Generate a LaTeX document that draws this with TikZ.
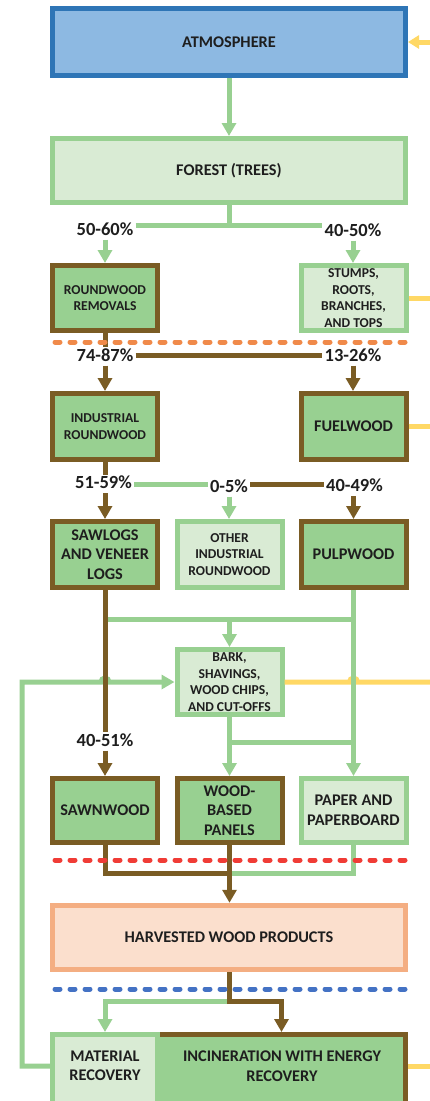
\documentclass[tikz,border=0pt]{standalone}
\usepackage{fontspec}
\setmainfont{Carlito}
\usetikzlibrary{arrows.meta}

\definecolor{atmfill}{HTML}{8DB9E2}
\definecolor{atmline}{HTML}{2E75B6}
\definecolor{lgfill}{HTML}{D9EBD4}
\definecolor{gline}{HTML}{98D091}
\definecolor{woodbrown}{HTML}{7A5C24}
\definecolor{ylw}{HTML}{FFD865}
\definecolor{hwpfill}{HTML}{FBDFCD}
\definecolor{hwpline}{HTML}{F4AE82}
\definecolor{orgdot}{HTML}{F08A4A}
\definecolor{reddot}{HTML}{F03C36}
\definecolor{bluedot}{HTML}{4472C4}
\definecolor{txt}{HTML}{1E1E1E}

\newcommand\fbig{\fontsize{16.3pt}{19.5pt}\selectfont\bfseries}
\newcommand\fsmall{\fontsize{13.6pt}{16.7pt}\selectfont\bfseries}
\newcommand\fpct{\fontsize{18.5pt}{20pt}\selectfont\bfseries}

\tikzset{
  box/.style={draw, line width=5pt, inner sep=0pt, align=center, text=txt},
  mgbox/.style={box, draw=woodbrown, fill=gline},
  lgbox/.style={box, draw=gline, fill=lgfill},
  colbox/.style={minimum width=105pt},
  pct/.style={font=\fpct, text=txt, inner xsep=2pt, inner ysep=1pt},
  gconn/.style={draw=gline, line width=5pt},
  bconn/.style={draw=woodbrown, line width=5pt},
  yconn/.style={draw=ylw, line width=5pt},
  arr/.style={-{Triangle[width=14pt,length=13pt]}},
  sep/.style={line width=5pt, line cap=round, dash pattern=on 5pt off 10pt},
}

\begin{document}
\begin{tikzpicture}[x=1pt,y=-1pt]
\useasboundingbox (0,0) rectangle (430,1101);
\clip (0,0) rectangle (430,1101);

% ---- boxes ----
\node[box, draw=atmline, fill=atmfill, minimum width=353pt, minimum height=67pt, font=\fbig]
  (atm) at (229,42) {ATMOSPHERE};
\node[lgbox, minimum width=353pt, minimum height=64pt, font=\fbig]
  (forest) at (229,170.5) {FOREST (TREES)};

\node[mgbox, colbox, minimum height=65pt, font=\fsmall] (removals) at (105,298) {ROUNDWOOD\\REMOVALS};
\node[lgbox, colbox, minimum height=65pt, font=\fsmall] (stumps) at (353.5,298) {STUMPS,\\ROOTS,\\BRANCHES,\\AND TOPS};

\node[mgbox, colbox, minimum height=66pt, font=\fsmall] (indround) at (105,426.5) {INDUSTRIAL\\ROUNDWOOD};
\node[mgbox, colbox, minimum height=66pt, font=\fbig] (fuelwood) at (353.5,426.5) {FUELWOOD};

\node[mgbox, colbox, minimum height=66pt, font=\fbig] (sawlogs) at (105,554.5) {SAWLOGS\\AND VENEER\\LOGS};
\node[lgbox, colbox, minimum height=66pt, font=\fsmall] (other) at (229.5,554.5) {OTHER\\INDUSTRIAL\\ROUNDWOOD};
\node[mgbox, colbox, minimum height=66pt, font=\fbig] (pulpwood) at (353.5,554.5) {PULPWOOD};

\node[lgbox, colbox, minimum height=65pt, font=\fsmall] (bark) at (229.5,682) {BARK,\\SHAVINGS,\\WOOD CHIPS,\\AND CUT-OFFS};

\node[mgbox, colbox, minimum height=64pt, font=\fbig] (sawnwood) at (105,810.5) {SAWNWOOD};
\node[mgbox, colbox, minimum height=64pt, font=\fbig] (panels) at (229.5,810.5) {WOOD-\\BASED\\PANELS};
\node[lgbox, colbox, minimum height=64pt, font=\fbig] (paper) at (353.5,810.5) {PAPER AND\\PAPERBOARD};

\node[box, draw=hwpline, fill=hwpfill, minimum width=353pt, minimum height=64.5pt, font=\fbig]
  (hwp) at (229,937.5) {HARVESTED WOOD PRODUCTS};

\node[mgbox, minimum width=248pt, minimum height=78pt] (incin) at (281.5,1073.5) {};
\node[lgbox, colbox, minimum height=78pt] (mat) at (105,1073.5) {};
\node[font=\fbig, text=txt, align=center, inner sep=0pt] (incT) at (282,1066) {INCINERATION WITH ENERGY\\RECOVERY};
\node[font=\fbig, text=txt, align=center, inner sep=0pt] (matT) at (105,1066) {MATERIAL\\RECOVERY};

% ---- percentage labels ----
\node[pct] (p1) at (105,229) {50-60\%};
\node[pct] (p2) at (353,230) {40-50\%};
\node[pct] (p3) at (105,355) {74-87\%};
\node[pct] (p4) at (353,355) {13-26\%};
\node[pct] (p5) at (103.5,482.5) {51-59\%};
\node[pct] (p6) at (229,486) {0-5\%};
\node[pct] (p7) at (354.5,485.5) {40-49\%};
\node[pct] (p8) at (105,740) {40-51\%};

% ---- junction points and free ends ----
\coordinate (fsplit) at (229,225);
\coordinate (r3line) at (229,484.5);
\coordinate (bsplit) at (229.5,619);
\coordinate (psplit) at (229.5,742);
\coordinate (hsplit) at (229.5,873);
\coordinate (rsplit) at (229.5,1001);
\coordinate (loopB) at (22,1066);
\coordinate (loopT) at (22,682);
\coordinate (yatm) at (432,42);
\coordinate (ystu) at (432,298);
\coordinate (yfuel) at (432,426.5);
\coordinate (ybark) at (432,682);
\coordinate (yinc) at (432,1066);

% ---- atmosphere and forest ----
\draw[yconn, -{Triangle[width=13pt,length=11pt]}] (yatm) -- (atm.east);
\draw[gconn, arr] (atm.south) -- (forest.north);
\draw[gconn] (forest.south) -- (fsplit);
\draw[gconn] (p1.east |- fsplit) -- (p2.west |- fsplit);
\draw[gconn, arr, shorten <=3pt] (p1.south) -- (removals.north);
\draw[gconn, arr, shorten <=3pt] (p2.south) -- (p2.south |- stumps.north);

% ---- removals split ----
\draw[bconn] (removals.south) -- (p3.north);
\draw[bconn] (p3.east) -- (p4.west);
\draw[bconn, arr, shorten <=3pt] (p3.south) -- (indround.north);
\draw[bconn, arr, shorten <=3pt] (p4.south) -- (p4.south |- fuelwood.north);

% ---- industrial roundwood split ----
\draw[bconn] (indround.south) -- (indround.south |- p5.north);
\draw[gconn] (p5.east |- r3line) -- (p6.west |- r3line);
\draw[bconn] (p6.east |- r3line) -- (p7.west |- r3line);
\draw[bconn, arr, shorten <=3pt] (sawlogs.north |- p5.south) -- (sawlogs.north);
\draw[gconn, arr, shorten <=3pt] (p6.south) -- (p6.south |- other.north);
\draw[bconn, arr, shorten <=3pt] (pulpwood.north |- p7.south) -- (pulpwood.north);

% ---- residues to bark box ----
\draw[gconn] (sawlogs.south |- bsplit) -- (pulpwood.south |- bsplit);
\draw[gconn, arr] (bsplit) -- (bark.north);
\draw[gconn, arr] (mat.west |- loopB) -- (loopB) -- (loopT)
  -- ([xshift=-4pt]sawlogs.south |- loopT) arc (180:0:4pt) -- (bark.west);
\draw[yconn] (bark.east) -- ([xshift=-4pt]pulpwood.south |- bark.east) arc (180:0:4pt) -- (ybark);
\draw[gconn, arr] (bark.south) -- (panels.north);
\draw[gconn] (psplit) -- (pulpwood.south |- psplit);
\draw[gconn, arr] (pulpwood.south) -- (paper.north);

% ---- sawlogs to sawnwood ----
\draw[bconn] (sawlogs.south) -- (p8.north);
\draw[bconn, arr, shorten <=3pt] (p8.south) -- (sawnwood.north);

% ---- products to harvested wood products ----
\draw[gconn] (paper.south) |- (hsplit);
\draw[bconn] (sawnwood.south) |- (hsplit);
\draw[bconn, arr] (panels.south) -- (panels.south |- hwp.north);

% ---- end of life ----
\draw[gconn, arr] (rsplit) -| (mat.north);
\draw[bconn, arr] (rsplit |- hwp.south) -- (rsplit) -| (incin.north);

% ---- energy flows leaving to the right ----
\draw[yconn] (stumps.east) -- (ystu);
\draw[yconn] (fuelwood.east) -- (yfuel);
\draw[yconn] (yinc -| incin.east) -- (yinc);

% ---- boundary separators ----
\draw[sep, orgdot] (55,342) -- (405,342);
\draw[sep, reddot] (55,860) -- (405,860);
\draw[sep, bluedot] (55,989) -- (405,989);
\end{tikzpicture}
\end{document}
